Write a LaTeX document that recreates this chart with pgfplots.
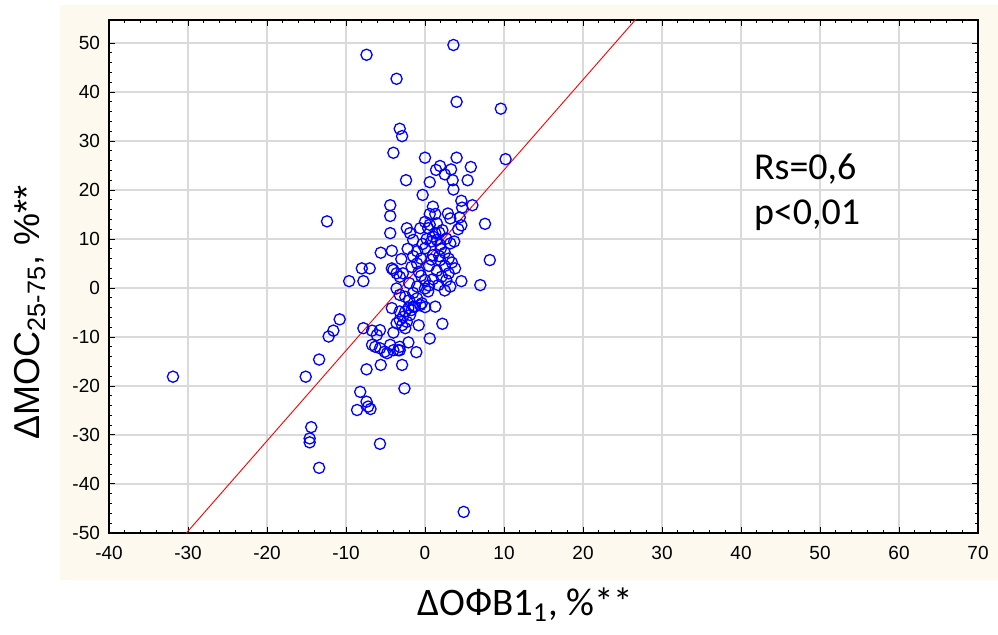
\documentclass[border=0pt]{standalone}
\usepackage{pgfplots}
\pgfplotsset{compat=1.18}
\usepackage{fontspec}
\setmainfont{Liberation Sans}
\newfontfamily\calib{Carlito}
\definecolor{cream}{RGB}{253,249,238}
\definecolor{gridc}{RGB}{218,218,218}
\begin{document}
\begin{tikzpicture}
\useasboundingbox (0,0) rectangle (499pt,317.5pt);
\fill[white] (0,0) rectangle (499pt,317.5pt);
\fill[cream] (30pt,27.5pt) rectangle (499pt,315pt);
\begin{axis}[
  at={(54.5pt,51pt)}, anchor=south west,
  scale only axis, width=434.5pt, height=256.5pt,
  xmin=-40, xmax=70, ymin=-50, ymax=54.7,
  xtick={-40,-30,...,70}, ytick={-50,-40,...,50},
  minor x tick num=4, minor y tick num=4,
  tick align=inside, major tick length=3pt, minor tick length=1.6pt,
  grid=major, major grid style={gridc, line width=0.9pt},
  axis line style={black, line width=0.6pt},
  every tick/.style={black, line width=0.5pt},
  axis background/.style={fill=white},
  /pgf/number format/assume math mode=true,
  ticklabel style={font=\fontsize{9.5}{11}\selectfont},
  xticklabel style={yshift=-3pt},
  yticklabel style={xshift=-1pt},
  xlabel={\calib\fontsize{19.5}{23}\selectfont ΔОФВ1\textsubscript{1}, \%**},
  ylabel={\fontsize{18}{21}\selectfont ΔМОС\textsubscript{25-75}, \%**},
  xlabel style={at={(axis description cs:0.479,-0.14)}, anchor=center},
  ylabel style={at={(axis description cs:-0.091,0.43)}, anchor=center},
]
\addplot[only marks, mark=o, mark size=2.8pt, mark options={blue, line width=0.65pt}] table {
x y
-7.4 47.6
3.6 49.6
-3.6 42.7
4.0 38.0
9.6 36.6
-3.2 32.5
-2.9 31.0
-4.0 27.6
0.0 26.6
4.0 26.6
10.2 26.3
5.8 24.7
1.9 24.9
1.4 24.1
3.3 24.2
2.5 23.2
3.5 22.0
-2.4 22.0
0.6 21.6
5.4 22.0
3.6 20.1
-0.3 19.0
4.6 17.8
-4.4 16.9
-4.4 14.7
1.0 16.6
4.7 16.4
6.0 16.9
-12.4 13.6
0.6 15.1
1.3 15.1
2.9 15.2
3.2 14.2
4.4 14.4
7.6 13.1
-4.4 11.2
-2.3 12.2
-1.9 11.2
-1.5 9.8
-0.6 12.2
0.0 13.5
0.4 12.2
1.5 13.2
1.8 11.3
4.6 12.8
4.2 12.0
0.8 9.5
1.5 9.8
1.9 8.8
2.7 10.1
3.7 9.5
3.2 9.1
8.2 5.7
-5.6 7.2
-4.2 7.6
-3.0 5.9
-1.5 6.5
0.0 8.1
1.0 6.7
1.9 5.7
2.5 7.2
3.4 5.2
-8.0 4.0
-7.0 4.0
-9.6 1.4
-7.8 1.4
-4.2 4.0
-3.6 3.0
-3.2 2.3
-1.7 4.3
-0.8 3.3
0.0 1.6
1.0 1.8
2.1 2.3
2.7 1.6
3.2 0.3
4.6 1.4
7.0 0.6
1.7 0.6
-3.6 -0.1
-1.0 0.3
0.0 -0.1
0.4 -0.7
-3.2 -1.4
-1.0 -2.1
-2.5 -1.8
-0.4 -3.1
1.3 -3.8
-4.2 -4.1
-1.5 -3.8
0.6 12.9
1.3 11.2
-2.8 3.0
-1.0 5.0
-0.5 6.0
0.5 4.5
1.5 3.5
2.5 4.5
3.0 3.0
-2.0 1.0
-1.5 -1.0
0.8 5.8
-0.3 9.0
1.0 10.5
2.2 11.8
0.2 10.0
-2.2 8.0
-1.0 7.5
2.0 8.0
1.8 6.5
3.8 4.0
3.0 6.0
-0.5 2.5
0.5 0.5
2.5 -0.5
-4.0 3.7
-2.0 -2.5
-10.8 -6.4
-11.6 -8.7
-12.2 -9.9
-13.4 -14.6
-15.1 -18.1
-7.8 -8.2
-6.7 -8.7
-5.7 -8.6
-6.1 -9.6
-4.0 -9.1
-6.7 -11.6
-6.3 -12.0
-5.7 -12.3
-5.1 -13.0
-4.4 -11.6
-4.0 -12.7
-3.2 -12.7
-2.1 -11.1
-1.1 -13.1
0.6 -10.3
2.2 -7.3
-0.8 -7.6
-3.6 -7.2
-3.2 -6.5
-2.8 -5.9
-2.5 -4.8
-2.1 -4.1
0.0 -3.9
-7.4 -16.6
-5.6 -15.7
-2.9 -15.7
-2.6 -20.5
-8.2 -21.2
-7.4 -23.2
-7.2 -24.2
-6.9 -24.7
-8.6 -24.9
-31.9 -18.1
-14.4 -28.4
-14.6 -30.7
-14.6 -31.5
-13.4 -36.7
-5.7 -31.8
4.9 -45.7
-2.9 -7.6
-2.5 -8.2
-2.3 -6.9
-1.9 -5.5
-1.7 -4.5
-1.3 -3.8
-0.6 -3.5
-4.8 -13.3
-3.4 -12.7
-3.2 -12.0
-3.2 -4.8
};
\addplot[red, line width=0.45pt] coordinates {(-30.2,-50) (30,60.95)};
\node[anchor=west, inner sep=0pt, font=\calib\fontsize{19}{22}\selectfont] at (axis cs:41.6,24.3) {Rs=0,6};
\node[anchor=west, inner sep=0pt, font=\calib\fontsize{19}{22}\selectfont] at (axis cs:41.6,14.9) {p<0,01};
\end{axis}
\end{tikzpicture}
\end{document}
